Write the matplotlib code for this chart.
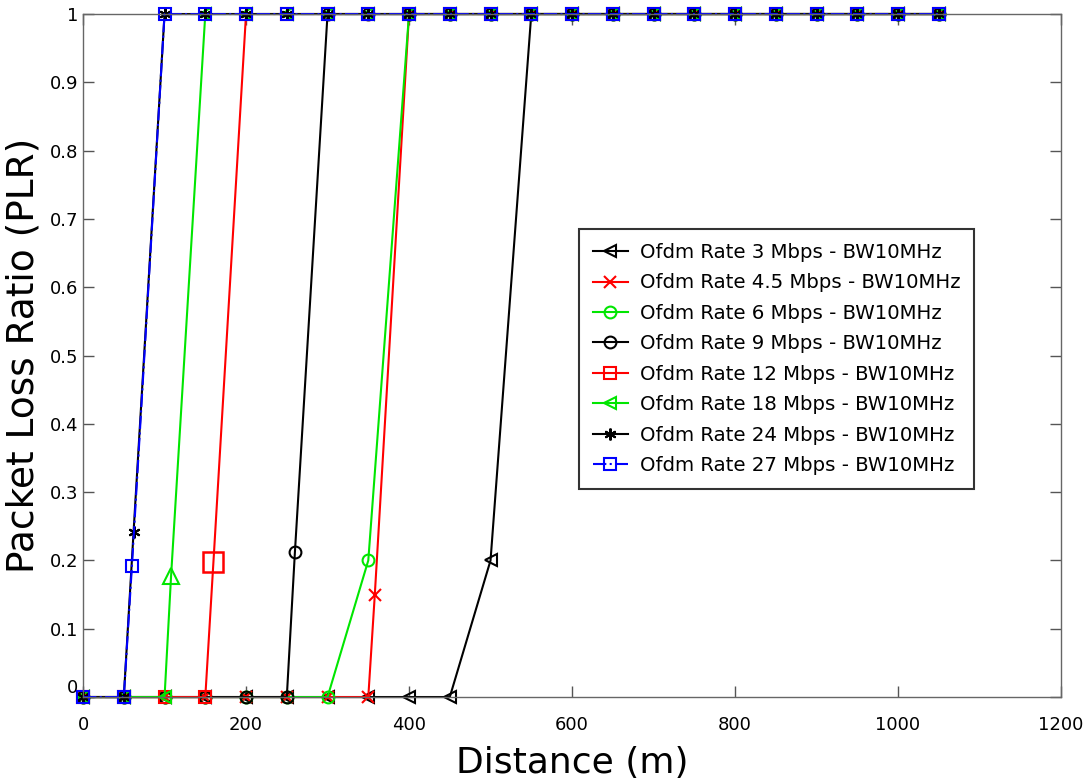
import numpy as np
import matplotlib
matplotlib.use('Agg')
import matplotlib.pyplot as plt

# distances (m) and packet loss ratio per OFDM rate
steps = list(range(0, 1100, 50))

x_3 = steps
y_3 = [0] * 10 + [0.2] + [1] * 11

x_45 = steps[:8] + [358] + steps[8:]
y_45 = [0] * 8 + [0.15] + [1] * 14

x_6 = steps
y_6 = [0] * 7 + [0.2] + [1] * 14

x_9 = steps[:6] + [260] + steps[6:]
y_9 = [0] * 6 + [0.213] + [1] * 16

x_12 = steps[:4] + [160] + steps[4:]
y_12 = [0] * 4 + [0.198] + [1] * 18

x_18 = steps[:3] + [108] + steps[3:]
y_18 = [0] * 3 + [0.177] + [1] * 19

x_24 = steps[:2] + [62] + steps[2:]
y_24 = [0] * 2 + [0.242] + [1] * 20

x_27 = steps[:2] + [60] + steps[2:]
y_27 = [0] * 2 + [0.192] + [1] * 20

labels = ['Ofdm Rate 3 Mbps - BW10MHz', 'Ofdm Rate 4.5 Mbps - BW10MHz',
          'Ofdm Rate 6 Mbps - BW10MHz', 'Ofdm Rate 9 Mbps - BW10MHz',
          'Ofdm Rate 12 Mbps - BW10MHz', 'Ofdm Rate 18 Mbps - BW10MHz',
          'Ofdm Rate 24 Mbps - BW10MHz', 'Ofdm Rate 27 Mbps - BW10MHz']

green = '#00e600'
asterisk = (6, 2, 0)

fig = plt.figure(figsize=(10.87, 7.83), dpi=100)
ax = fig.add_axes([0.0764, 0.1098, 0.8997, 0.8723])

kw = dict(lw=1.5, ms=8.5, mfc='none', mew=1.5, clip_on=False)


def not_mid(n, i):
    return [k for k in range(n) if k != i]


ax.plot(x_3, y_3, '-', color='black', marker='<', label=labels[0], **kw)
ax.plot(x_45, y_45, '-', color='red', marker='x', label=labels[1], **kw)
ax.plot(x_6, y_6, '-', color=green, marker='o', label=labels[2], **kw)
ax.plot(x_9, y_9, '-', color='black', marker='o', label=labels[3], **kw)
ax.plot(x_12, y_12, '-', color='red', marker='s', label=labels[4],
        markevery=not_mid(len(x_12), 4), **kw)
ax.plot(x_12[4], y_12[4], color='red', marker='s', ms=14, mfc='none', mew=1.8)
ax.plot(x_18, y_18, '-', color=green, marker='<', label=labels[5],
        markevery=not_mid(len(x_18), 3), **kw)
ax.plot(x_18[3], y_18[3], color=green, marker='^', ms=11, mfc='none', mew=1.5)
ax.plot(x_24, y_24, '-', color='black', marker=asterisk, label=labels[6],
        **kw)
ax.plot(x_27, y_27, '-.', color='#0000ff', marker='s', label=labels[7], **kw)

ax.set_xlim(0, 1200)
ax.set_ylim(0, 1)
ax.set_xticks(range(0, 1201, 200))
yt = np.round(np.arange(0, 1.01, 0.1), 1)
ax.set_yticks(yt)
ax.set_yticklabels(['0'] + ['%.1f' % v for v in yt[1:-1]] + ['1'])
ax.get_yticklabels()[0].set_va('bottom')

ax.tick_params(direction='in', length=8, width=1, colors='#555555',
               labelcolor='black', labelsize=13, top=True, right=True)
ax.tick_params(axis='x', pad=14)
for s in ax.spines.values():
    s.set_color('#666666')
    s.set_linewidth(1)

ax.set_xlabel('Distance (m)', fontsize=26, labelpad=8)
ax.set_ylabel('Packet Loss Ratio (PLR)', fontsize=27, labelpad=6)

leg = ax.legend(loc='upper left', bbox_to_anchor=(0.507, 0.685), fontsize=14.2,
                frameon=True, fancybox=False, edgecolor='black',
                handlelength=1.8, labelspacing=0.58, borderpad=0.7,
                handletextpad=0.6, borderaxespad=0)
leg.get_frame().set_linewidth(1.5)

fig.savefig('out.png', dpi=100)
